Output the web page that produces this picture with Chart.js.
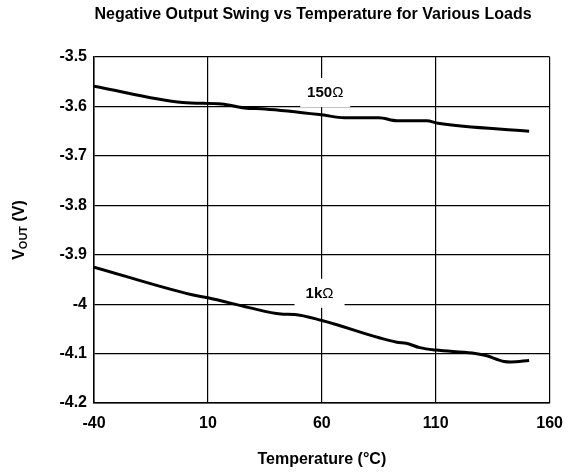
<!DOCTYPE html>
<html>
<head>
<meta charset="utf-8">
<script src="https://cdn.jsdelivr.net/npm/chart.js@4"></script>
<style>
  html, body { margin: 0; padding: 0; background: #fff; }
  #wrap { width: 574px; height: 474px; }
</style>
</head>
<body>
<div id="wrap"><canvas id="myChart" width="574" height="474"></canvas></div>
<script>
// temperature (°C) and output voltage (V)
const temps150 = [-40, -1, 16, 26, 35, 60, 70, 85, 93, 106, 111, 151];
const vout150 = [-3.559, -3.592, -3.595, -3.603, -3.605, -3.617, -3.623, -3.623, -3.629, -3.629, -3.634, -3.650];

const temps1k = [-40, 3, 10, 28, 42, 48, 60, 93, 97, 103, 110, 126, 132, 140, 143, 151];
const vout1k = [-3.925, -3.981, -3.987, -4.007, -4.020, -4.021, -4.033, -4.077, -4.079, -4.088, -4.093, -4.099, -4.104, -4.116, -4.117, -4.114];

const xTicks = [-40, 10, 60, 110, 160];
const yTicks = [-3.5, -3.6, -3.7, -3.8, -3.9, -4, -4.1, -4.2];

// curve labels, placed in data units
const curveLabels = [
    { text: "150", x: 61.5, y: -3.573 },
    { text: "1k", x: 59, y: -3.979 }
];

const FONT = "'Liberation Sans', Arial, sans-serif";

function punti(xs, ys) {
    return xs.map((x, i) => ({ x: x, y: ys[i] }));
}

const testiPlugin = {
    id: "testi",
    beforeDatasetsDraw(chart) {
        const c = chart.ctx;
        const sx = chart.scales.x;
        const sy = chart.scales.y;
        c.save();
        c.textBaseline = "middle";
        c.textAlign = "left";
        curveLabels.forEach(l => {
            const px = sx.getPixelForValue(l.x);
            const py = sy.getPixelForValue(l.y);
            c.fillStyle = "#fff";
            c.fillRect(px - 25, py - 15, 50, 29);
            c.fillStyle = "#000";
            c.font = "bold 15px " + FONT;
            const w1 = c.measureText(l.text).width;
            c.font = "15px " + FONT;
            const w2 = c.measureText("\u03A9").width;
            const x0 = px - (w1 + w2) / 2;
            c.font = "bold 15px " + FONT;
            c.fillText(l.text, x0, py);
            c.font = "15px " + FONT;
            c.fillText("\u03A9", x0 + w1, py);
        });
        c.restore();
    },
    afterDraw(chart) {
        const c = chart.ctx;
        const area = chart.chartArea;
        c.save();
        c.fillStyle = "#000";
        c.textBaseline = "middle";
        c.textAlign = "center";

        c.font = "bold 16px " + FONT;
        c.fillText("Negative Output Swing vs Temperature for Various Loads", 313, 15);

        c.fillText("Temperature (\u00B0C)", (area.left + area.right) / 2, 460);

        // y title with subscript
        c.translate(20, 230);
        c.rotate(-Math.PI / 2);
        c.textAlign = "left";
        const w1 = c.measureText("V").width;
        c.font = "bold 11px " + FONT;
        const w2 = c.measureText("OUT").width;
        c.font = "bold 16px " + FONT;
        const w3 = c.measureText(" (V)").width;
        let x0 = -(w1 + w2 + w3) / 2;
        c.fillText("V", x0, 0);
        c.font = "bold 11px " + FONT;
        c.fillText("OUT", x0 + w1, 4);
        c.font = "bold 16px " + FONT;
        c.fillText(" (V)", x0 + w1 + w2, 0);
        c.restore();
    }
};

const ctx = document.getElementById("myChart");

new Chart(ctx, {
    type: "line",
    data: {
        datasets: [
            {
                label: "150\u03A9",
                data: punti(temps150, vout150),
                borderColor: "#000",
                borderWidth: 3,
                pointRadius: 0,
                cubicInterpolationMode: "monotone",
                fill: false
            },
            {
                label: "1k\u03A9",
                data: punti(temps1k, vout1k),
                borderColor: "#000",
                borderWidth: 3,
                pointRadius: 0,
                cubicInterpolationMode: "monotone",
                fill: false
            }
        ]
    },
    options: {
        responsive: false,
        animation: false,
        devicePixelRatio: 1,
        layout: { padding: { top: 57, right: 19, left: 0, bottom: 0 } },
        plugins: {
            legend: { display: false },
            title: { display: false },
            tooltip: { enabled: false }
        },
        scales: {
            x: {
                type: "linear",
                min: -40,
                max: 160,
                afterBuildTicks: (scale) => { scale.ticks = xTicks.map(v => ({ value: v })); },
                afterFit: (scale) => { scale.height = 71; },
                grid: { color: "#000", lineWidth: 1.2, drawTicks: false },
                border: { color: "#000", width: 1.5 },
                ticks: {
                    color: "#000",
                    padding: 11,
                    maxRotation: 0,
                    font: { family: FONT, size: 16, weight: "bold" }
                }
            },
            y: {
                type: "linear",
                min: -4.2,
                max: -3.5,
                afterBuildTicks: (scale) => { scale.ticks = yTicks.map(v => ({ value: v })); },
                afterFit: (scale) => { scale.width = 94; },
                grid: { color: "#000", lineWidth: 1.2, drawTicks: false },
                border: { color: "#000", width: 1.5 },
                ticks: {
                    color: "#000",
                    padding: 7,
                    font: { family: FONT, size: 16, weight: "bold" },
                    callback: (v) => String(Math.round(v * 10) / 10)
                }
            }
        }
    },
    plugins: [testiPlugin]
});
</script>
</body>
</html>
